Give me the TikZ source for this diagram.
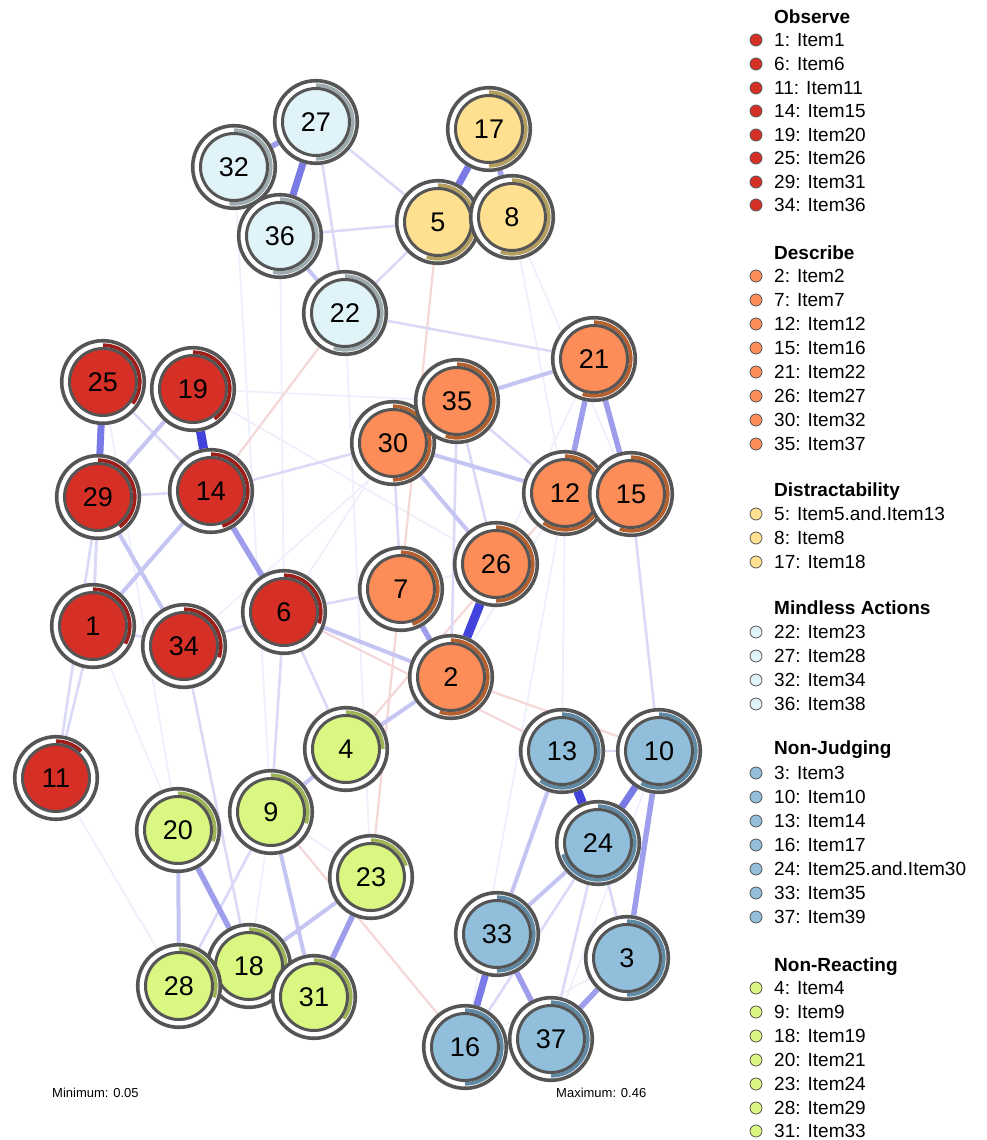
\documentclass[tikz,border=0pt]{standalone}
\usepackage{fontspec}
\setmainfont{Liberation Sans}
\pgfdeclarelayer{bg}
\pgfsetlayers{bg,main}
\definecolor{eb}{RGB}{40,40,215}
\definecolor{er}{RGB}{228,140,140}
\definecolor{gb}{HTML}{555555}
\definecolor{obsF}{HTML}{D62F26}\definecolor{obsA}{HTML}{9E1E1A}
\definecolor{desF}{HTML}{FC8D59}\definecolor{desA}{HTML}{B5602F}
\definecolor{disF}{HTML}{FEE090}\definecolor{disA}{HTML}{B49F5E}
\definecolor{minF}{HTML}{E0F3F8}\definecolor{minA}{HTML}{9DAAAE}
\definecolor{njF}{HTML}{91BFDB}\definecolor{njA}{HTML}{5E8AA6}
\definecolor{nrF}{HTML}{D9F781}\definecolor{nrA}{HTML}{9CB356}
\tikzset{
 gbase/.style={circle, minimum size=82.6pt, inner sep=0pt, draw=gb, line width=3.6pt, fill=white},
 ginner/.style={circle, minimum size=67pt, inner sep=0pt, draw=gb, line width=3pt, font=\fontsize{27}{27}\selectfont},
 w1/.style={line width=1.6pt, draw=eb!8},
 w2/.style={line width=2.6pt, draw=eb!17},
 w3/.style={line width=4pt, draw=eb!27},
 w4/.style={line width=5.5pt, draw=eb!45},
 w5/.style={line width=7pt, draw=eb!62},
 w6/.style={line width=9pt, draw=eb!88},
 n1/.style={line width=2.2pt, draw=er!35},
 lbul/.style={circle, minimum size=12pt, inner sep=0pt, draw=gb, line width=0.8pt},
 ltext/.style={anchor=west, inner sep=0pt, text height=13.6pt, text depth=0pt, font=\fontsize{19}{19}\selectfont},
 lhead/.style={ltext, font=\fontsize{19}{19}\selectfont\bfseries},
 smalltxt/.style={anchor=west, inner sep=0pt, font=\fontsize{13}{13}\selectfont},
}
\newcommand\gnode[6]{%
 \node[gbase] (#1) at (#2,#3) {};
 \draw[#4A, line width=3.7pt] (#1.center) ++(-90:36.8) arc[start angle=-90, delta angle={360*#5}, radius=36.8];
 \node[ginner, fill=#4F] (#1t) at (#1.center) {#6};
}
\newcommand\litem[4]{%
 \node[lbul, fill=#3F] (#1b) at (756,#2) {};
 \node[ltext] (#1) at (774,#2) {#4};
}
\begin{document}
\begin{tikzpicture}[x=1pt,y=-1pt]
\useasboundingbox (0,0) rectangle (987,1140);
\begin{pgfonlayer}{bg}
\fill[white] (0,0) rectangle (987,1140);
\end{pgfonlayer}
% nodes in numeric order
\gnode{n1}{93}{626}{obs}{0.33}{1}
\gnode{n2}{451}{677}{des}{0.55}{2}
\gnode{n3}{627}{958}{nj}{0.5}{3}
\gnode{n4}{346}{749}{nr}{0.25}{4}
\gnode{n5}{438}{222}{dis}{0.55}{5}
\gnode{n6}{284}{612}{obs}{0.30}{6}
\gnode{n7}{401}{589}{des}{0.45}{7}
\gnode{n8}{512}{217}{dis}{0.55}{8}
\gnode{n9}{271}{812}{nr}{0.30}{9}
\gnode{n10}{659}{751}{nj}{0.58}{10}
\gnode{n11}{56}{778}{obs}{0.12}{11}
\gnode{n12}{565}{493}{des}{0.60}{12}
\gnode{n13}{562}{751}{nj}{0.60}{13}
\gnode{n14}{211}{491}{obs}{0.45}{14}
\gnode{n15}{631}{494}{des}{0.55}{15}
\gnode{n16}{465}{1047}{nj}{0.5}{16}
\gnode{n17}{489}{129}{dis}{0.5}{17}
\gnode{n18}{249}{966}{nr}{0.30}{18}
\gnode{n19}{193}{389}{obs}{0.40}{19}
\gnode{n20}{178}{830}{nr}{0.30}{20}
\gnode{n21}{594}{359}{des}{0.55}{21}
\gnode{n22}{345}{313}{min}{0.55}{22}
\gnode{n23}{371}{877}{nr}{0.20}{23}
\gnode{n24}{598}{843}{nj}{0.70}{24}
\gnode{n25}{103}{382}{obs}{0.35}{25}
\gnode{n26}{496}{564}{des}{0.5}{26}
\gnode{n27}{316}{122}{min}{0.5}{27}
\gnode{n28}{179}{986}{nr}{0.30}{28}
\gnode{n29}{98}{497}{obs}{0.40}{29}
\gnode{n30}{393}{443}{des}{0.5}{30}
\gnode{n31}{314}{997}{nr}{0.35}{31}
\gnode{n32}{234}{167}{min}{0.52}{32}
\gnode{n33}{497}{934}{nj}{0.5}{33}
\gnode{n34}{184}{646}{obs}{0.30}{34}
\gnode{n35}{457}{401}{des}{0.55}{35}
\gnode{n36}{280}{236}{min}{0.53}{36}
\gnode{n37}{551}{1039}{nj}{0.5}{37}
% edges
\begin{pgfonlayer}{bg}
\foreach \a/\b in {n8/n12,n8/n15,n36/n6,n32/n9,n22/n23,n19/n35,n19/n26,n6/n30,n34/n35,n25/n20,n1/n20,n11/n28,n26/n7,n12/n13,n21/n26,n12/n2,n16/n12,n9/n18,n9/n23,n3/n16,n10/n37}
  \draw[w1] (\a) -- (\b);
\foreach \a/\b in {n5/n23,n22/n14,n6/n13,n12/n4,n2/n10,n9/n16}
  \draw[n1] (\a) -- (\b);
\foreach \a/\b in {n27/n22,n27/n5,n36/n5,n22/n5,n22/n21,n25/n14,n29/n14,n29/n1,n25/n1,n1/n11,n29/n11,n1/n34,n34/n6,n6/n7,n14/n30,n34/n18,n6/n9,n6/n4,n35/n12,n30/n7,n35/n2,n35/n26,n15/n10,n9/n28,n13/n10,n24/n16,n24/n37,n24/n3}
  \draw[w2] (\a) -- (\b);
\foreach \a/\b in {n36/n22,n19/n29,n14/n1,n29/n34,n6/n2,n21/n35,n30/n12,n30/n26,n2/n4,n4/n9,n9/n31,n20/n28,n18/n23,n13/n33,n24/n33}
  \draw[w3] (\a) -- (\b);
\foreach \a/\b in {n27/n32,n17/n8,n14/n6,n21/n12,n21/n15,n7/n2,n20/n18,n23/n31,n10/n3,n33/n37,n3/n37}
  \draw[w4] (\a) -- (\b);
\foreach \a/\b in {n27/n36,n17/n5,n25/n29,n10/n24,n33/n16}
  \draw[w5] (\a) -- (\b);
\foreach \a/\b in {n19/n14,n26/n2,n13/n24}
  \draw[w6] (\a) -- (\b);
\end{pgfonlayer}
% bottom labels
\node[smalltxt] (minl) at (52,1093) {Minimum: 0.05};
\node[smalltxt] (maxl) at (556,1093) {Maximum: 0.46};
% legend
\node[lhead] (hobs) at (774,17) {Observe};
\litem{l1}{40}{obs}{1: Item1}
\litem{l6}{64}{obs}{6: Item6}
\litem{l11}{88}{obs}{11: Item11}
\litem{l14}{111}{obs}{14: Item15}
\litem{l19}{135}{obs}{19: Item20}
\litem{l25}{158}{obs}{25: Item26}
\litem{l29}{182}{obs}{29: Item31}
\litem{l34}{205}{obs}{34: Item36}
\node[lhead] (hdes) at (774,253) {Describe};
\litem{l2}{276}{des}{2: Item2}
\litem{l7}{300}{des}{7: Item7}
\litem{l12}{324}{des}{12: Item12}
\litem{l15}{348}{des}{15: Item16}
\litem{l21}{372}{des}{21: Item22}
\litem{l26}{396}{des}{26: Item27}
\litem{l30}{420}{des}{30: Item32}
\litem{l35}{444}{des}{35: Item37}
\node[lhead] (hdis) at (774,490) {Distractability};
\litem{l5}{514}{dis}{5: Item5.and.Item13}
\litem{l8}{538}{dis}{8: Item8}
\litem{l17}{562}{dis}{17: Item18}
\node[lhead] (hmin) at (774,608) {Mindless Actions};
\litem{l22}{632}{min}{22: Item23}
\litem{l27}{656}{min}{27: Item28}
\litem{l32}{680}{min}{32: Item34}
\litem{l36}{704}{min}{36: Item38}
\node[lhead] (hnj) at (774,748) {Non-Judging};
\litem{l3}{773}{nj}{3: Item3}
\litem{l10}{797}{nj}{10: Item10}
\litem{l13}{821}{nj}{13: Item14}
\litem{l16}{845}{nj}{16: Item17}
\litem{l24}{869}{nj}{24: Item25.and.Item30}
\litem{l33}{893}{nj}{33: Item35}
\litem{l37}{917}{nj}{37: Item39}
\node[lhead] (hnr) at (774,965) {Non-Reacting};
\litem{l4}{988}{nr}{4: Item4}
\litem{l9}{1012}{nr}{9: Item9}
\litem{l18}{1036}{nr}{18: Item19}
\litem{l20}{1060}{nr}{20: Item21}
\litem{l23}{1084}{nr}{23: Item24}
\litem{l28}{1108}{nr}{28: Item29}
\litem{l31}{1131}{nr}{31: Item33}
\end{tikzpicture}
\end{document}
